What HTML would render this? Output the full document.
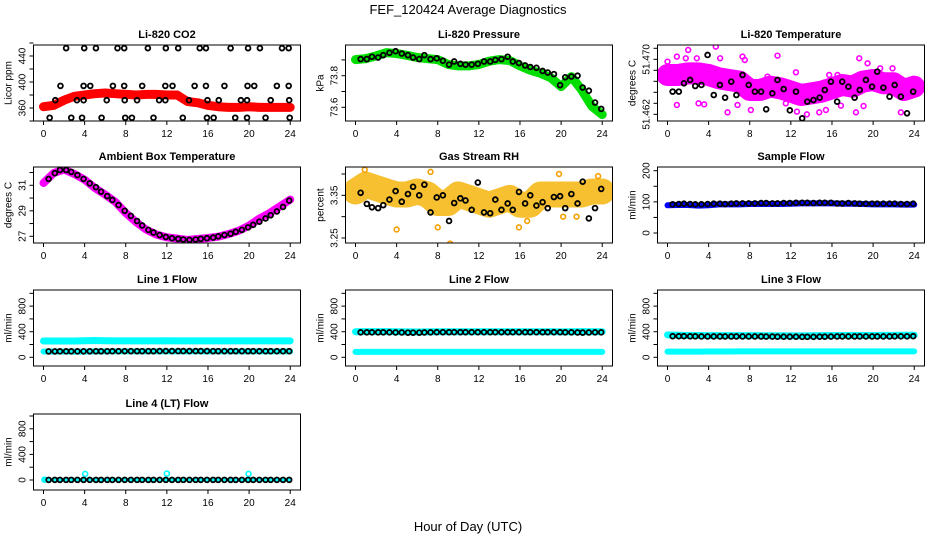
<!DOCTYPE html>
<html><head><meta charset="utf-8"><style>
html,body{margin:0;padding:0;background:#fff}
svg{display:block;font-family:"Liberation Sans",Arial,sans-serif}
</style></head><body>
<svg id="chart" width="936" height="540" viewBox="0 0 936 540" xmlns="http://www.w3.org/2000/svg">
<text x="468" y="14" text-anchor="middle" font-size="13">FEF_120424  Average Diagnostics</text>
<text x="468" y="531" text-anchor="middle" font-size="13">Hour of Day (UTC)</text>
</svg>
<script>
const HOURS=[0,1,2,3,4,5,6,7,8,9,10,11,12,13,14,15,16,17,18,19,20,21,22,23,24];
const T=[0.5,1.1,1.6,2.2,2.7,3.3,3.9,4.5,5.1,5.6,6.2,6.7,7.3,7.9,8.5,9.1,9.6,10.2,10.7,11.3,11.9,12.5,13.1,13.6,14.2,14.8,15.3,15.9,16.5,17.0,17.6,18.2,18.7,19.3,19.9,20.4,21.0,21.6,22.1,22.7,23.3,23.9];
const X_TICKS=[0,4,8,12,16,20,24];

// CO2
const CO2_BAND=[362,364,372,378,380,382,383,382,381,380,381,381,380,380,370,368,364,362,361,361,362,361,361,361,361];
const CO2_PT_X=[2.2,3.96,5.1,7.2,7.85,10.15,11.9,13.1,15.2,15.8,18.2,19.9,21.05,23.2,23.85,
1.65,3.9,4.55,6.75,7.85,9.6,11.85,12.55,14.7,15.8,17.6,19.85,20.5,22.7,23.85,
1.15,3.25,3.9,6.15,7.9,9.1,11.25,11.85,14.15,15.95,17.05,19.2,19.8,22.1,23.9,
0.6,2.7,3.75,5.65,7.95,8.6,10.7,13.55,15.9,16.55,18.65,19.8,21.6,23.95];
const CO2_PT_Y=[452,452,452,452,452,452,452,452,452,452,452,452,452,452,452,
394,394,394,394,394,394,394,394,394,394,394,394,394,394,394,
372,372,372,372,372,372,372,372,372,372,372,372,372,372,372,
345,345,345,345,345,345,345,345,345,345,345,345,345,345];

// Pressure
const PRES_BAND=[73.902,73.908,73.925,73.946,73.94,73.929,73.915,73.908,73.902,73.871,73.862,73.862,73.871,73.892,73.902,73.896,73.862,73.835,73.815,73.787,73.731,73.794,73.71,73.606,73.554];
const PRES_PTS=[73.905,73.905,73.92,73.915,73.93,73.945,73.955,73.94,73.93,73.915,73.905,73.93,73.905,73.91,73.895,73.87,73.89,73.875,73.87,73.87,73.875,73.89,73.89,73.90,73.905,73.92,73.89,73.88,73.865,73.855,73.85,73.83,73.82,73.81,73.74,73.79,73.795,73.80,73.725,73.705,73.63,73.59];

// Li-820 temperature
const TEMP_BAND=[51.46772,51.46772,51.46796,51.46796,51.46772,51.46724,51.46699,51.46675,51.46554,51.46554,51.46602,51.46578,51.4653,51.46481,51.46505,51.4653,51.46578,51.46627,51.46602,51.46675,51.46699,51.46651,51.46651,51.46554,51.46602];
const TEMP_OUT_X=[0.0,0.91,2.01,1.78,2.27,2.85,3.02,3.57,4.70,5.12,5.84,6.81,7.30,7.52,8.11,9.73,10.70,11.51,12.49,12.59,13.56,14.76,15.41,15.73,16.87,18.33,18.65,19.46,20.69,21.89,22.70,19.07,0.91,16.54];
const TEMP_OUT_Y=[51.46966,51.47039,51.47136,51.47015,51.46869,51.47015,51.4636,51.46345,51.47184,51.47015,51.46229,51.46336,51.47039,51.4699,51.46263,51.46748,51.47053,51.4636,51.46811,51.46239,51.462,51.46229,51.46263,51.46772,51.46326,51.46229,51.47015,51.46942,51.46869,51.46869,51.46229,51.46321,51.46336,51.46772];
const TEMP_PTS=[51.4653,51.4653,51.46651,51.4670,51.46612,51.46627,51.47063,51.46481,51.46627,51.46442,51.46675,51.46481,51.46772,51.46627,51.4653,51.4653,51.46273,51.46505,51.4670,51.46568,51.46258,51.4653,51.46142,51.46384,51.46408,51.46442,51.46554,51.46675,51.46384,51.46675,51.46602,51.46442,51.46554,51.4670,51.46602,51.46821,51.46588,51.46457,51.46627,51.46457,51.46215,51.4653];

// Ambient box temperature
const AMB_BAND=[31.18,31.97,32.23,31.89,31.44,30.79,30.27,29.69,28.83,28.12,27.52,27.13,26.92,26.82,26.71,26.79,26.87,26.97,27.18,27.44,27.84,28.39,28.83,29.35,29.88];
const AMB_PTS=[31.5,31.95,32.2,32.2,32.05,31.8,31.5,31.15,30.85,30.5,30.15,29.85,29.45,29.0,28.6,28.2,27.85,27.5,27.3,27.1,26.95,26.85,26.8,26.75,26.72,26.75,26.8,26.85,26.9,27.0,27.1,27.2,27.35,27.5,27.7,27.9,28.15,28.4,28.65,28.95,29.3,29.8];

// Gas stream RH
const RH_BAND=[3.359,3.375,3.367,3.359,3.352,3.352,3.359,3.352,3.332,3.332,3.352,3.344,3.336,3.328,3.336,3.344,3.328,3.328,3.352,3.352,3.352,3.352,3.352,3.359,3.359];
const RH_OUT_X=[0.9,4.0,8.0,9.2,15.9,19.8,23.6,7.3,16.7,20.2,21.5];
const RH_OUT_Y=[3.41,3.27,3.275,3.237,3.275,3.40,3.395,3.405,3.29,3.30,3.30];
const RH_PTS=[3.356,3.33,3.322,3.32,3.327,3.34,3.36,3.335,3.353,3.37,3.35,3.375,3.31,3.345,3.35,3.29,3.332,3.343,3.338,3.316,3.38,3.31,3.308,3.34,3.316,3.331,3.316,3.358,3.331,3.35,3.326,3.334,3.32,3.346,3.348,3.32,3.353,3.331,3.382,3.296,3.32,3.365];

// Sample flow
const SF_BAND=[89,90,90,88,89,92,92,92,93,93,93,93,94,95,95,95,95,94,94,93,92,92,92,91,91];
const SF_PTS=[92,93,94,93,92,92,93,94,94,93,94,95,95,95,95,96,96,95,95,96,96,97,97,97,96,97,97,97,95,95,96,95,94,94,94,94,94,94,94,93,93,94];

// Line flows
const L1_HI=[255,255,255,255,258,262,258,256,256,256,256,256,258,256,256,256,256,256,256,256,256,256,256,256,256];
const L1_LO=[90,90,90,88,88,92,92,92,92,92,92,92,92,92,92,92,92,92,92,92,92,92,92,92,92];
const L1_PTS=[92,92,93,93,93,93,94,94,94,94,94,95,95,96,96,96,96,96,96,97,97,97,97,97,97,97,97,97,96,96,96,96,96,96,96,95,95,95,95,95,95,95];
const L2_HI=[400,402,402,402,400,398,396,398,400,400,400,400,400,400,400,400,400,400,400,400,398,400,402,400,400];
const L2_LO=[85,85,85,85,85,85,85,85,85,85,85,85,85,85,85,85,85,85,85,85,85,85,85,85,85];
const L2_PTS=[390,390,390,390,390,390,388,388,385,385,385,388,390,392,392,392,392,392,392,392,392,392,392,392,392,392,392,392,392,392,392,392,392,392,392,390,390,388,386,388,390,390];
const L3_HI=[350,345,340,340,338,338,338,338,338,338,336,336,334,334,336,338,340,340,340,340,340,342,342,344,346];
const L3_LO=[88,88,88,88,90,90,90,92,92,92,92,92,92,92,92,92,92,92,92,92,92,92,92,92,92];
const L3_PTS=[330,330,330,328,328,326,326,326,326,326,326,326,326,326,326,326,324,324,322,322,322,322,320,320,320,322,322,324,326,326,326,326,326,326,326,326,326,326,328,328,328,330];
const L4_BAND=[2,2,2,2,2,2,2,2,2,2,2,2,2,2,2,2,2,2,2,2,2,2,2,2,2];
const L4_SPK_X=[0.1,4.05,12.0,19.95];
const L4_SPK_Y=[5,95,100,95];
const L4_PTS=[2,2,2,2,2,2,2,2,2,2,2,2,2,2,2,2,2,2,2,2,2,2,2,2,2,2,2,2,2,2,2,2,2,2,2,2,2,2,2,2,2,2];

const NS='http://www.w3.org/2000/svg';
const svg=document.getElementById('chart');
const COLX=[33.5,345.5,657.5], ROWY=[45,167,290,414], BW=267, BH=76;
function mk(tag,attrs,parent){const e=document.createElementNS(NS,tag);for(const k in attrs)e.setAttribute(k,attrs[k]);(parent||svg).appendChild(e);return e;}

function panel(cfg){
  const x0=COLX[cfg.col], y0=ROWY[cfg.row];
  const g=mk('g',{});
  
  
  const xs=h=>x0+10+h*10.28;
  const ys=v=>y0+BH-(v-cfg.dom[0])/(cfg.dom[1]-cfg.dom[0])*BH;
  const clip='clip-'+cfg.id;
  const cp=mk('clipPath',{id:clip},g); mk('rect',{x:x0,y:y0,width:BW,height:BH},cp);
  const plot=mk('g',{'clip-path':'url(#'+clip+')'},g);
  
  
  cfg.draw(plot,xs,ys);
  const box=mk('rect',{x:x0,y:y0,width:BW,height:BH,fill:'none',stroke:'#000','stroke-width':1},g);
  
  
  const t=mk('text',{x:x0+BW/2,y:y0-7,'text-anchor':'middle','font-size':11,'font-weight':'bold'},g);
  t.textContent=cfg.title;
  
  
  const xa=mk('g',{},g);
  
  
  X_TICKS.forEach(h=>{
    mk('line',{x1:xs(h),x2:xs(h),y1:y0+BH,y2:y0+BH+4,stroke:'#000'},xa);
    const l=mk('text',{x:xs(h),y:y0+BH+16,'text-anchor':'middle','font-size':10},xa);l.textContent=h;
  });
  const ya=mk('g',{},g);
  
  
  cfg.ticks.forEach(v=>{const y=ys(v); if(y<y0-3||y>y0+BH+1)return;
    mk('line',{x1:x0,x2:x0-4,y1:y,y2:y,stroke:'#000'},ya);});
  cfg.labels.forEach((v,i)=>{const y=ys(v);
    const l=mk('text',{x:x0-8,y:y,'text-anchor':'middle','font-size':10,transform:`rotate(-90 ${x0-8} ${y})`},ya);
    l.textContent=cfg.labelText?cfg.labelText[i]:v;});
  const yl=mk('text',{x:x0-22,y:y0+BH/2,'text-anchor':'middle','font-size':10,transform:`rotate(-90 ${x0-22} ${y0+BH/2})`},g);
  yl.textContent=cfg.ylab;
  
  
}
function band(p,xs,ys,vals,color,w,name){
  const pl=mk('polyline',{points:HOURS.map((h,i)=>xs(h)+','+ys(vals[i])).join(' '),fill:'none',stroke:color,'stroke-width':w,'stroke-linejoin':'round','stroke-linecap':'round'},p);
  
  
}
function pts(p,xs,ys,X,Y,color,r,sw,name){
  const g=mk('g',{},p);
  
  
  X.forEach((x,i)=>mk('circle',{cx:xs(x),cy:ys(Y[i]),r:r,fill:'none',stroke:color,'stroke-width':sw},g));
}

panel({id:'co2',col:0,row:0,title:'Li-820 CO2',ylab:'Licor ppm',dom:[340,456.9],ticks:[340,360,380,400,420,440,460],labels:[360,400,440],
 draw:(p,xs,ys)=>{band(p,xs,ys,CO2_BAND,'#f00',9,'co2-band');pts(p,xs,ys,CO2_PT_X,CO2_PT_Y,'#000',2.4,1.8,'co2-points');}});
panel({id:'pressure',col:1,row:0,title:'Li-820 Pressure',ylab:'kPa',dom:[73.5133,73.9943],ticks:[73.6,73.7,73.8,73.9],labels:[73.6,73.8],
 draw:(p,xs,ys)=>{band(p,xs,ys,PRES_BAND,'#0d0',9,'pressure-band');pts(p,xs,ys,T,PRES_PTS,'#000',2.4,1.8,'pressure-points');}});
panel({id:'li820-temp',col:2,row:0,title:'Li-820 Temperature',ylab:'degrees C',dom:[51.46103,51.47208],ticks:[51.4620,51.4636,51.4652,51.4668,51.4684,51.4700,51.4716],labels:[51.462,51.470],labelText:['51.462','51.470'],
 draw:(p,xs,ys)=>{band(p,xs,ys,TEMP_BAND,'#f0f',22,'li820-temp-band');pts(p,xs,ys,TEMP_OUT_X,TEMP_OUT_Y,'#f0f',2.4,1.6,'li820-temp-outliers');pts(p,xs,ys,T,TEMP_PTS,'#000',2.4,1.8,'li820-temp-points');}});
panel({id:'ambient',col:0,row:1,title:'Ambient Box Temperature',ylab:'degrees C',dom:[26.475,32.435],ticks:[27,28,29,30,31,32],labels:[27,29,31],
 draw:(p,xs,ys)=>{band(p,xs,ys,AMB_BAND,'#f0f',8,'ambient-band');pts(p,xs,ys,T,AMB_PTS,'#000',2.4,1.8,'ambient-points');}});
panel({id:'rh',col:1,row:1,title:'Gas Stream RH',ylab:'percent',dom:[3.2383,3.4164],ticks:[3.25,3.30,3.35,3.40],labels:[3.25,3.35],
 draw:(p,xs,ys)=>{band(p,xs,ys,RH_BAND,'#f7c030',26,'rh-band');pts(p,xs,ys,RH_OUT_X,RH_OUT_Y,'#f5a000',2.4,1.6,'rh-outliers');pts(p,xs,ys,T,RH_PTS,'#000',2.4,1.8,'rh-points');}});
panel({id:'sample-flow',col:2,row:1,title:'Sample Flow',ylab:'ml/min',dom:[-32.1,211.9],ticks:[0,50,100,150,200],labels:[0,100,200],
 draw:(p,xs,ys)=>{band(p,xs,ys,SF_BAND,'#00f',6,'sample-flow-band');pts(p,xs,ys,T,SF_PTS,'#000',2.4,1.8,'sample-flow-points');}});
panel({id:'line1',col:0,row:2,title:'Line 1 Flow',ylab:'ml/min',dom:[-136,1052],ticks:[0,200,400,600,800,1000],labels:[0,400,800],
 draw:(p,xs,ys)=>{band(p,xs,ys,L1_HI,'#0ff',7,'line1-high-band');band(p,xs,ys,L1_LO,'#0ff',6,'line1-low-band');pts(p,xs,ys,T,L1_PTS,'#000',2.4,1.8,'line1-points');}});
panel({id:'line2',col:1,row:2,title:'Line 2 Flow',ylab:'ml/min',dom:[-136,1052],ticks:[0,200,400,600,800,1000],labels:[0,400,800],
 draw:(p,xs,ys)=>{band(p,xs,ys,L2_HI,'#0ff',7,'line2-high-band');band(p,xs,ys,L2_LO,'#0ff',6,'line2-low-band');pts(p,xs,ys,T,L2_PTS,'#000',2.4,1.8,'line2-points');}});
panel({id:'line3',col:2,row:2,title:'Line 3 Flow',ylab:'ml/min',dom:[-136,1052],ticks:[0,200,400,600,800,1000],labels:[0,400,800],
 draw:(p,xs,ys)=>{band(p,xs,ys,L3_HI,'#0ff',7,'line3-high-band');band(p,xs,ys,L3_LO,'#0ff',6,'line3-low-band');pts(p,xs,ys,T,L3_PTS,'#000',2.4,1.8,'line3-points');}});
panel({id:'line4',col:0,row:3,title:'Line 4 (LT) Flow',ylab:'ml/min',dom:[-156,1031],ticks:[0,200,400,600,800,1000],labels:[0,400,800],
 draw:(p,xs,ys)=>{band(p,xs,ys,L4_BAND,'#0ff',4,'line4-band');pts(p,xs,ys,L4_SPK_X,L4_SPK_Y,'#0ff',2.5,1.6,'line4-spikes');pts(p,xs,ys,T,L4_PTS,'#000',2.4,1.8,'line4-points');}});
</script>
</body></html>
